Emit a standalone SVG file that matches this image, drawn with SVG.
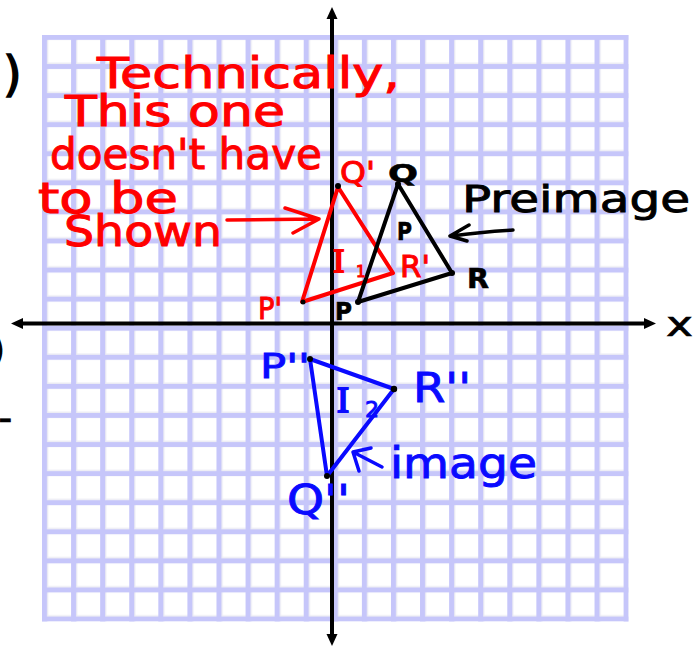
<svg xmlns="http://www.w3.org/2000/svg" width="700" height="646" viewBox="0 0 700 646">
<style>
.hand{font-family:"DejaVu Sans","Liberation Sans",sans-serif;}
.serif{font-family:"Liberation Serif","DejaVu Serif",serif;stroke-width:2;}
.red{fill:#ff0000;stroke:#ff0000;stroke-width:1;}
.blk{fill:#000;stroke:#000;stroke-width:0.6;}
.blu{fill:#0a0aff;stroke:#0a0aff;stroke-width:0.9;}
.tri{fill:none;stroke-width:4;stroke-linejoin:round;stroke-linecap:round;}
.ann{fill:none;stroke-width:3.5;stroke-linecap:round;stroke-linejoin:round;}
.axis{stroke:#000;stroke-width:4;fill:none;}
</style>
<defs>
<pattern id="grid" x="42" y="35" width="29.08" height="29.08" patternUnits="userSpaceOnUse">
<rect width="29.08" height="29.08" fill="#c6c6fa"/>
<rect x="5" y="5" width="24.08" height="24.08" fill="#ececf4"/>
<rect x="6.2" y="5" width="22.88" height="22.6" fill="#ffffff"/>
</pattern>
<marker id="ah" viewBox="0 -6 12 12" refX="0" refY="0" markerWidth="12" markerHeight="12" markerUnits="userSpaceOnUse" orient="auto-start-reverse">
<path d="M0,-5.5 L12,0 L0,5.5 z" fill="#000"/>
</marker>
</defs>
<rect width="700" height="646" fill="#fff"/>
<g id="grid-paper">
<rect x="42" y="35" width="586.6" height="586.6" fill="url(#grid)"/>
</g>
<g id="margin-fragments" class="hand blk">
<text x="3" y="91" font-size="48" stroke-width="1.5">)</text>
<text x="-10" y="362" font-size="38" stroke-width="1.5">)</text>
<text x="-2" y="432" font-size="40">-</text>
</g>
<g id="axes">
<line class="axis" x1="23" y1="323.5" x2="644" y2="323.5" marker-start="url(#ah)" marker-end="url(#ah)"/>
<line class="axis" x1="332" y1="19" x2="332" y2="634" marker-start="url(#ah)" marker-end="url(#ah)"/>
<text class="hand blk" x="666" y="336" font-size="34" textLength="27" lengthAdjust="spacingAndGlyphs">x</text>
</g>
<g id="triangle-red">
<polygon class="tri" stroke="#ff0000" points="338,187 393,273 302,302"/>
<circle cx="338" cy="186" r="3"/>
<circle cx="303" cy="302" r="2.5"/>
</g>
<g id="triangle-black">
<polygon class="tri" stroke="#000" points="398,184 452,273 358,302"/>
<circle cx="398" cy="184" r="3"/>
<circle cx="452" cy="273" r="3"/>
<circle cx="358" cy="302" r="3"/>
</g>
<g id="triangle-blue">
<polygon class="tri" stroke="#0a0aff" points="310,359 394,389 327,476"/>
<circle cx="310" cy="359" r="3"/>
<circle cx="394" cy="389" r="3.2"/>
<circle cx="327" cy="476" r="3"/>
</g>
<g id="labels-black" class="hand blk" font-weight="bold">
<text x="388" y="182" font-size="24" textLength="30" lengthAdjust="spacingAndGlyphs">Q</text>
<text x="467" y="288" font-size="27" textLength="22" lengthAdjust="spacingAndGlyphs">R</text>
<text x="397" y="240" font-size="24" textLength="15" lengthAdjust="spacingAndGlyphs">P</text>
<text x="335" y="320" font-size="25" textLength="17" lengthAdjust="spacingAndGlyphs">P</text>
</g>
<g id="label-preimage" class="hand blk">
<text x="462" y="212" font-size="38" stroke-width="0.9" textLength="228" lengthAdjust="spacingAndGlyphs">Preimage</text>
</g>
<g id="labels-red" class="red">
<text class="hand" x="340" y="183" font-size="30" textLength="35" lengthAdjust="spacingAndGlyphs">Q'</text>
<text class="hand" x="400" y="277" font-size="30" textLength="30" lengthAdjust="spacingAndGlyphs">R'</text>
<text class="hand" x="258" y="319" font-size="30" textLength="24" lengthAdjust="spacingAndGlyphs">P'</text>
<text class="serif" x="333" y="272" font-size="34">I</text>
<text class="hand" x="356" y="277" font-size="15">1</text>
</g>
<g id="note-red" class="hand red" font-size="42" stroke-width="1.3">
<text x="97" y="88" textLength="303" lengthAdjust="spacingAndGlyphs">Technically,</text>
<text x="65" y="126" textLength="220" lengthAdjust="spacingAndGlyphs">This one</text>
<text x="50" y="169" textLength="272" lengthAdjust="spacingAndGlyphs">doesn't have</text>
<text x="38" y="213" textLength="140" lengthAdjust="spacingAndGlyphs">to be</text>
<text x="64" y="246" textLength="158" lengthAdjust="spacingAndGlyphs">Shown</text>
</g>
<g id="labels-blue" class="blu">
<text class="hand" x="260" y="378" font-size="34" textLength="50" lengthAdjust="spacingAndGlyphs">P''</text>
<text class="hand" x="413" y="402" font-size="40" textLength="58" lengthAdjust="spacingAndGlyphs">R''</text>
<text class="hand" x="287" y="514" font-size="40" textLength="63" lengthAdjust="spacingAndGlyphs">Q''</text>
<text class="serif" x="337" y="412" font-size="36">I</text>
<text class="hand" x="365" y="417" font-size="22">2</text>
<text class="hand" x="390" y="478" font-size="42" textLength="147" lengthAdjust="spacingAndGlyphs">image</text>
</g>
<g id="connectors">
<path class="ann" stroke="#ff0000" d="M227,220 L318,219 M285,208 L319,219 L293,233"/>
<path class="ann" stroke="#000" d="M513,230 Q480,232 452,236 M469,225 L450,236 L467,241"/>
<path class="ann" stroke="#0a0aff" d="M382,467 L353,452 M371,448 L353,452 L359,471"/>
</g>
</svg>
